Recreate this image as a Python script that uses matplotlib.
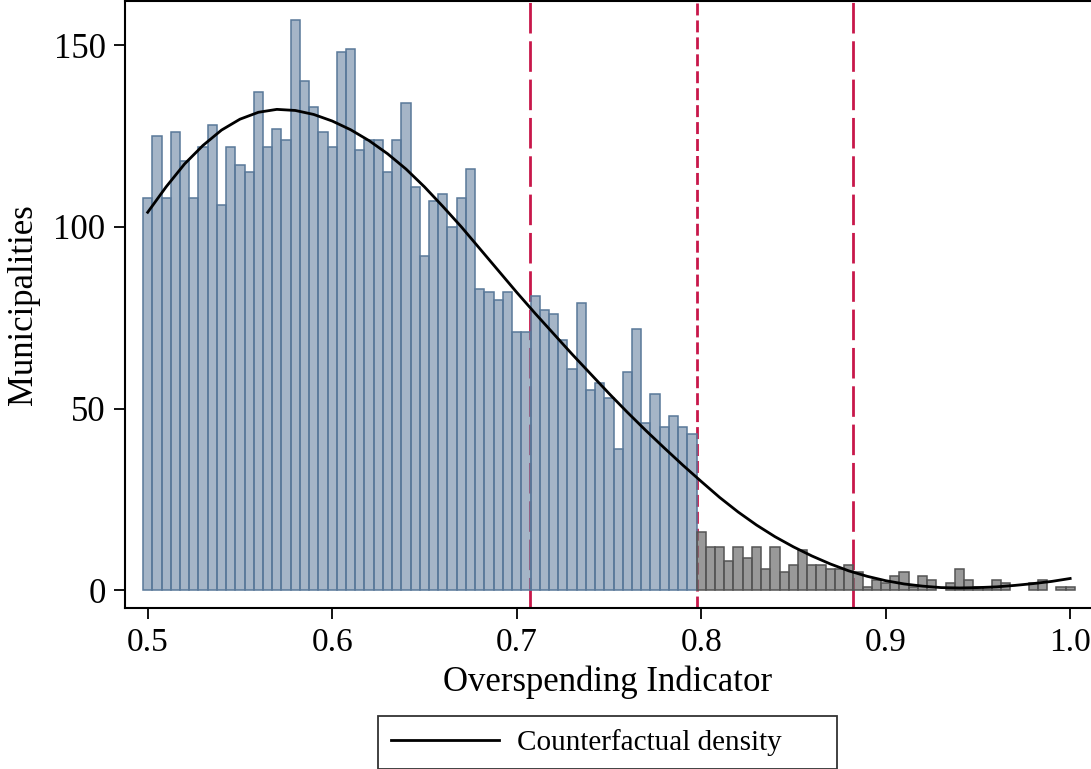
import numpy as np
import matplotlib
matplotlib.use("Agg")
import matplotlib.pyplot as plt
from matplotlib.lines import Line2D

plt.rcParams['font.family'] = ['Liberation Serif', 'DejaVu Serif']

# histogram: bins of width 0.005 centred on 0.500 ... 1.000
bin_width = 0.005
blue_counts = [108, 125, 108, 126, 118, 108, 122, 128, 106, 122, 117, 115, 137, 122, 127,
               124, 157, 140, 133, 126, 122, 148, 149, 121, 124, 124, 115, 124, 134, 111,
               92, 107, 109, 100, 108, 116, 83, 82, 80, 82, 71, 71, 81, 77, 76,
               69, 61, 79, 55, 57, 53, 39, 60, 72, 46, 54, 45, 48, 45, 43]
grey_counts = [16, 12, 12, 8, 12, 9, 12, 6, 12, 5, 7, 11, 7, 7, 6, 6, 7, 5, 1, 3, 2,
               4, 5, 1, 4, 3, 0, 2, 6, 3, 1, 1, 3, 2, 0, 0, 2, 3, 0, 1, 1]
blue_x = 0.5 + bin_width * np.arange(len(blue_counts))
grey_x = blue_x[-1] + bin_width * np.arange(1, len(grey_counts) + 1)

# counterfactual density
curve_x = [0.50, 0.51, 0.52, 0.53, 0.54, 0.55, 0.56, 0.57, 0.58, 0.59, 0.60, 0.61, 0.62,
           0.63, 0.64, 0.65, 0.66, 0.67, 0.68, 0.69, 0.70, 0.71, 0.72, 0.73, 0.74, 0.75,
           0.76, 0.77, 0.78, 0.79, 0.80, 0.81, 0.82, 0.83, 0.84, 0.85, 0.86, 0.87, 0.88,
           0.89, 0.90, 0.91, 0.92, 0.93, 0.94, 0.95, 0.96, 0.97, 0.98, 0.99, 1.00]
curve_y = [104.0, 111.0, 117.3, 122.4, 126.6, 129.6, 131.5, 132.3, 132.0, 130.9, 129.1, 126.7, 123.7,
           120.1, 115.9, 111.0, 105.6, 100.0, 94.0, 88.0, 82.0, 76.2, 70.6, 65.0, 59.6, 54.2,
           49.0, 44.0, 39.2, 34.5, 30.0, 25.6, 21.6, 18.0, 14.8, 12.0, 9.5, 7.3, 5.4,
           3.9, 2.7, 1.8, 1.2, 0.8, 0.7, 0.8, 1.0, 1.4, 1.9, 2.5, 3.3]

# vertical markers
cut_lines = [0.7072, 0.7975, 0.8823]
cut_dash = [(11.0, 2.8), (4.3, 1.8), (11.0, 2.8)]

fig = plt.figure(figsize=(10.91, 7.69), dpi=100)
ax = fig.add_axes([125/1091, 1 - 607.7/769, 1 - 125/1091, (607.7 - 1)/769])

red = '#C8174A'
for xv, d in zip(cut_lines, cut_dash):
    ax.axvline(xv, color=red, lw=2.0, dashes=d, zorder=1)

blue_face = (0.41, 0.52, 0.635, 0.6)
blue_edge = (0.35, 0.47, 0.60)
grey_face = (0.43, 0.43, 0.43, 0.7)
grey_edge = (0.33, 0.33, 0.33)

bc = np.array(blue_counts)
gc = np.array(grey_counts)
ax.bar(blue_x, bc, width=bin_width, facecolor=blue_face, edgecolor=blue_edge, lw=1.1, zorder=2)
ax.bar(grey_x[gc > 0], gc[gc > 0], width=bin_width, facecolor=grey_face, edgecolor=grey_edge,
       lw=1.1, zorder=2)

ax.plot(curve_x, curve_y, color='black', lw=2.0, zorder=3)

ax.set_xlim(0.4877, 1.0113)
ax.set_ylim(-4.73, 162.1)
ax.set_xticks([0.5, 0.6, 0.7, 0.8, 0.9, 1.0])
ax.set_xticklabels(['0.5', '0.6', '0.7', '0.8', '0.9', '1.0'])
ax.set_yticks([0, 50, 100, 150])
ax.tick_params(axis='both', labelsize=24, length=8, width=1.3, direction='out', pad=6)
ax.tick_params(axis='y', labelsize=25)
ax.spines['right'].set_visible(False)
for s in ['left', 'bottom', 'top']:
    ax.spines[s].set_linewidth(1.5)

ax.set_xlabel('Overspending Indicator', fontsize=25, labelpad=6)
ax.set_ylabel('Municipalities', fontsize=25, labelpad=10)

handle = Line2D([], [], color='black', lw=2.0)
leg = fig.legend([handle], ['Counterfactual density'], loc='upper left',
                 bbox_to_anchor=(378/1091, 1 - 768/769, 459/1091, 52/769), mode='expand',
                 fontsize=21, frameon=True, fancybox=False, edgecolor='black',
                 handlelength=3.7, handletextpad=0.63, borderpad=0.45, borderaxespad=0)
leg.get_frame().set_linewidth(1.3)

fig.savefig('out.png', dpi=100)
